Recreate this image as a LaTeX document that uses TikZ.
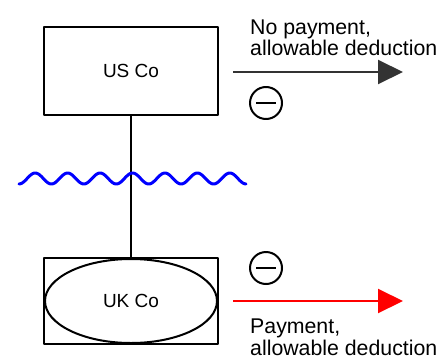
\documentclass[tikz,border=0pt]{standalone}
\usepackage{fontspec}
\setmainfont{Liberation Sans}
\usetikzlibrary{shapes.geometric,arrows.meta,positioning}

\definecolor{arrowgray}{rgb}{0.2,0.2,0.2}

\begin{document}
\begin{tikzpicture}[x=1pt,y=-1pt,line join=bevel,
  cobox/.style={draw,line width=2pt,minimum width=174pt,minimum height=88pt,inner sep=0pt,font=\fontsize{19}{22}\selectfont},
  coellipse/.style={ellipse,draw,line width=2pt,minimum width=172pt,minimum height=84pt,inner sep=0pt,font=\fontsize{19}{22}\selectfont},
  sign/.style={circle,draw,line width=2pt,minimum size=32pt,inner sep=0pt},
  flowlbl/.style={inner sep=0pt,align=left,font=\fontsize{21.3}{21.5}\selectfont},
  flow/.style={line width=2pt,-{Triangle[length=25pt,width=24pt]}},
]
\useasboundingbox (0,0) rectangle (443,356);
% companies
\node[cobox] (usCo) at (131,71) {US Co};
\node[cobox,minimum height=86pt] (ukBox) at (131,301) {};
\node[coellipse] (ukCo) at (ukBox.center) {UK Co};
\draw[line width=2pt] (usCo.south) -- (ukBox.north);
% border
\draw[blue,line width=3pt,line cap=round] plot[domain=19:246,samples=200,smooth]
  (\x,{178.5+5.5*cos(11.1*(\x-19))});
% flows
\coordinate (usFrom) at (233,72);
\coordinate (usTo) at (403,72);
\draw[flow,arrowgray] (usFrom) -- (usTo);
\node[flowlbl,anchor=base west] (usLbl) at (250,55.5) {No payment,\\allowable deduction};
\node[sign] (usSign) at (266,103) {};
\draw[line width=2pt] ([xshift=-10pt]usSign.center) -- ([xshift=10pt]usSign.center);

\coordinate (ukFrom) at (233,301);
\coordinate (ukTo) at (403,301);
\draw[flow,red] (ukFrom) -- (ukTo);
\node[flowlbl,anchor=base west] (ukLbl) at (250,355) {Payment,\\allowable deduction};
\node[sign] (ukSign) at (266,268) {};
\draw[line width=2pt] ([xshift=-10pt]ukSign.center) -- ([xshift=10pt]ukSign.center);
\end{tikzpicture}
\end{document}
